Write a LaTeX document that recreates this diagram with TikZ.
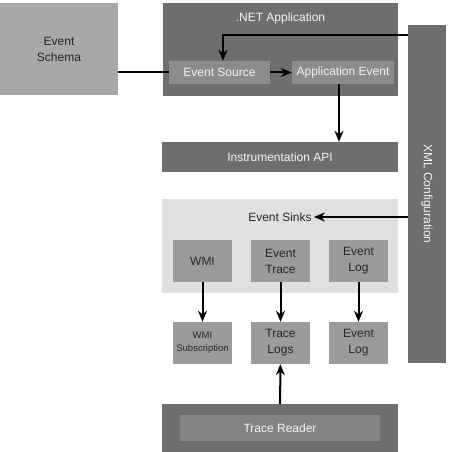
\documentclass[tikz,border=0pt]{standalone}
\usepackage{fontspec}
\setsansfont{Liberation Sans}
\usetikzlibrary{arrows.meta,positioning}
\definecolor{darkbox}{HTML}{6E6E6E}
\definecolor{innerbox}{HTML}{8C8C8C}
\definecolor{sinkbox}{HTML}{9B9B9B}
\definecolor{schemabox}{HTML}{A8A8A8}
\definecolor{sinkarea}{HTML}{E0E0E0}
\definecolor{lighttext}{HTML}{F4F4F4}

\begin{document}
\begin{tikzpicture}[x=1pt, y=1pt,
  box/.style={inner sep=0pt, align=center, font=\sffamily\fontsize{12}{16}\selectfont},
  darkpanel/.style={box, fill=darkbox, text=lighttext},
  innerpanel/.style={box, fill=innerbox, text=lighttext},
  sinkpanel/.style={box, fill=sinkbox, text=black!85, minimum width=59, minimum height=42},
  arr/.style={line width=2pt, -{Stealth[length=11pt, width=9pt]}}]

% === Wymiary ===
\useasboundingbox (0,0) rectangle (450,452);
\fill[white] (0,0) rectangle (450,452);

% === Event Schema ===
\node[box, fill=schemabox, text=black!85, minimum width=118, minimum height=92]
  (schema) at (59,403) {Event\\Schema};

% === .NET Application ===
\node[darkpanel, minimum width=235, minimum height=93] (netapp) at (280.5,402.5) {};
\node[box, text=lighttext] (netlbl) at (280.5,434) {.NET Application};
\node[innerpanel, minimum width=101, minimum height=23] (source) at (219.5,379.5) {Event Source};
\node[innerpanel, minimum width=102, minimum height=23] (appevent) at (343,379.5) {Application Event};

% === XML Configuration ===
\node[darkpanel, minimum width=38, minimum height=338] (xml) at (427,258) {};
\node[box, text=lighttext, rotate=-90] (xmllbl) at (427,258) {XML Configuration};

% === Instrumentation API ===
\node[darkpanel, minimum width=236, minimum height=30] (api) at (280,295) {Instrumentation API};

% === Event Sinks ===
\node[box, fill=sinkarea, minimum width=236, minimum height=94] (sinks) at (280,206) {};
\node[box, text=black!85] (sinkslbl) at (280,235) {Event Sinks};
\node[sinkpanel] (wmi) at (202.5,191) {WMI};
\node[sinkpanel] (trace) at (280.5,191) {Event\\Trace};
\node[sinkpanel] (evlog) at (358.5,191) {Event\\Log};

% === Wyjścia ===
\node[sinkpanel, font=\sffamily\fontsize{9.5}{13}\selectfont] (wmisub) at (202.5,109) {WMI\\Subscription};
\node[sinkpanel] (tracelogs) at (280.5,109) {Trace\\Logs};
\node[sinkpanel] (evlogout) at (358.5,109) {Event\\Log};

% === Trace Reader ===
\node[darkpanel, minimum width=236, minimum height=48] (reader) at (280,24) {};
\node[innerpanel, fill=darkbox!85!white, minimum width=200, minimum height=26] (readerin) at (280,24) {Trace Reader};

% === Połączenia ===
\coordinate (cfgout) at (408,417);
\draw[line width=2pt] (schema.east |- source.west) -- (source.west);
\draw[arr] (source) -- (appevent);
\draw[arr] (cfgout) -| ([xshift=3.5pt]source.north);
\draw[arr] ([xshift=-4pt]appevent.south) -- ([xshift=-4pt]appevent.south |- api.north);
\draw[arr] (xml.west |- sinkslbl) -- ([xshift=2pt]sinkslbl.east);
\draw[arr] (wmi) -- (wmisub);
\draw[arr] (trace) -- (tracelogs);
\draw[arr] (evlog) -- (evlogout);
\draw[arr] (reader) -- (tracelogs);

\end{tikzpicture}
\end{document}
